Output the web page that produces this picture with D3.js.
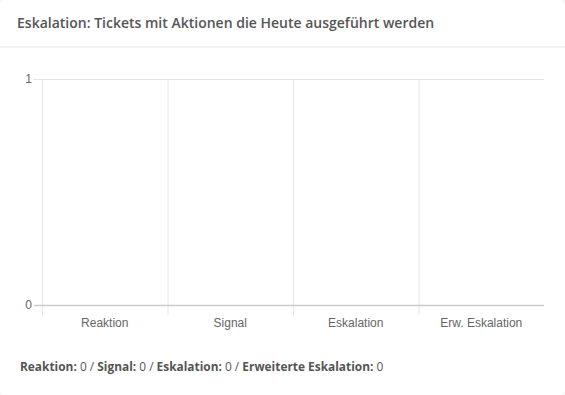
<!DOCTYPE html>
<html><head><meta charset="utf-8">
<script src="https://cdn.jsdelivr.net/npm/d3@7"></script>
<style>
html,body{margin:0;padding:0;background:#f7f7f7;}
#card{position:absolute;left:0;top:0;width:565px;height:395px;background:#fff;border-radius:6px;overflow:hidden;}
</style></head>
<body><div id="card"></div>
<script>
const categories = ["Reaktion","Signal","Eskalation","Erw. Eskalation"];
const values = [0,0,0,0];
const yTicks = [0,1];
const summaryLabels = ["Reaktion","Signal","Eskalation","Erweiterte Eskalation"];

const svg = d3.select("#card").append("svg").attr("width",565).attr("height",395)
  .style("position","absolute").style("left","0").style("top","0");

svg.append("text").attr("x",17).attr("y",28)
  .attr("font-family","Open Sans").attr("font-size",14).attr("font-weight",600).attr("fill","#555")
  .text("Eskalation: Tickets mit Aktionen die Heute ausgeführt werden");
svg.append("rect").attr("x",0).attr("y",46).attr("width",565).attr("height",2).attr("fill","#f3f3f3");

const x = d3.scaleBand().domain(categories).range([42,544]).padding(0);
const y = d3.scaleLinear().domain([0,1]).range([305,79]);

// vertical grid / category boundaries
const bounds = categories.map(c=>x(c));
svg.selectAll(".vg").data(bounds).join("line")
  .attr("x1",d=>d+0.5).attr("x2",d=>d+0.5).attr("y1",79).attr("y2",315)
  .attr("stroke","#e6e6e6").attr("stroke-width",1);

// horizontal grid
svg.selectAll(".hg").data(yTicks.filter(t=>t!==0)).join("line")
  .attr("x1",33).attr("x2",544).attr("y1",d=>y(d)+0.5).attr("y2",d=>y(d)+0.5)
  .attr("stroke","#e6e6e6");
svg.append("line").attr("x1",34).attr("x2",544).attr("y1",y(0)+0.5).attr("y2",y(0)+0.5)
  .attr("stroke","#ccc").attr("stroke-width",1.5);

// y tick labels
svg.selectAll(".yl").data(yTicks).join("text")
  .attr("x",32).attr("y",d=>y(d)+4).attr("text-anchor","end")
  .attr("font-family","Liberation Sans, Arial").attr("font-size",12).attr("fill","#666")
  .text(d=>d);

// bars (zero height)
svg.selectAll(".bar").data(values).join("rect")
  .attr("x",(d,i)=>x(categories[i])+x.bandwidth()*0.15).attr("width",x.bandwidth()*0.7)
  .attr("y",d=>y(d)).attr("height",d=>y(0)-y(d)).attr("fill","#7cb5ec");

// category labels
svg.selectAll(".xl").data(categories).join("text")
  .attr("x",d=>x(d)+x.bandwidth()/2).attr("y",327).attr("text-anchor","middle")
  .attr("font-family","Liberation Sans, Arial").attr("font-size",12).attr("fill","#666")
  .text(d=>d);

// summary
const t = svg.append("text").attr("x",20).attr("y",371)
  .attr("font-family","Open Sans").attr("font-size",11.9).attr("fill","#555");
summaryLabels.forEach((l,i)=>{
  t.append("tspan").attr("font-weight","bold").text(l+":");
  t.append("tspan").text(" "+values[i]+(i<summaryLabels.length-1?" / ":""));
});
</script></body></html>
